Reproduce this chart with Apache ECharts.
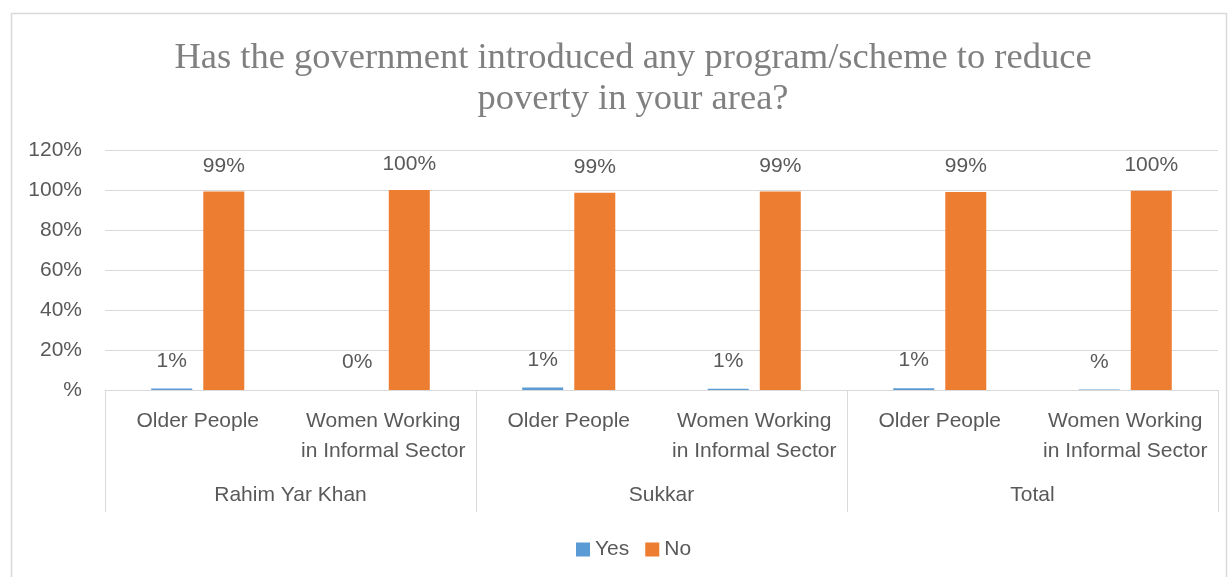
<!DOCTYPE html>
<html>
<head>
<meta charset="utf-8">
<script src="https://cdn.jsdelivr.net/npm/echarts@6/dist/echarts.min.js"></script>
<style>
  html, body { margin: 0; padding: 0; background: #ffffff; }
  #chart { width: 1230px; height: 577px; }
</style>
</head>
<body>
<div id="chart"></div>
<script>
// Survey answers by respondent group and district (percent)
const groups = ['Rahim Yar Khan', 'Sukkar', 'Total'];
const categories = [
  'Older People', 'Women Working\nin Informal Sector',
  'Older People', 'Women Working\nin Informal Sector',
  'Older People', 'Women Working\nin Informal Sector'
];
const yesValues = [0.8, 0, 1.2, 0.6, 0.9, 0.3];
const noValues = [99.2, 100, 98.6, 99.2, 99.0, 99.6];
const yTicks = [0, 20, 40, 60, 80, 100, 120];

const TEXT = '#595959';
const GRID = '#d9d9d9';
const SANS = '"Liberation Sans", Arial, sans-serif';

// Percent label in the "#%" style: values that round to zero lose their digit
function pct(v) {
  if (v === 0) return '0%';
  const r = Math.round(v);
  return (r === 0 ? '' : r) + '%';
}

const chart = echarts.init(document.getElementById('chart'));
chart.setOption({
  backgroundColor: '#ffffff',
  animation: false,
  title: {
    text: 'Has the government introduced any program/scheme to reduce\npoverty in your area?',
    left: 628,
    top: 33,
    textAlign: 'center',
    textStyle: {
      fontFamily: '"Liberation Serif", "DejaVu Serif", serif',
      fontWeight: 'normal',
      fontSize: 36.5,
      lineHeight: 41,
      color: '#808080'
    }
  },
  legend: {
    data: ['Yes', 'No'],
    left: 571,
    top: 534,
    icon: 'rect',
    itemWidth: 14,
    itemHeight: 14,
    itemGap: 16,
    textStyle: { fontFamily: SANS, fontSize: 21, color: TEXT }
  },
  grid: { left: 105, right: 12, top: 150, bottom: 187, containLabel: false },
  xAxis: [
    {
      type: 'category',
      data: categories,
      position: 'bottom',
      axisLine: { show: true, lineStyle: { color: GRID, width: 1 } },
      axisTick: { show: false },
      axisLabel: {
        interval: 0,
        margin: 16,
        fontFamily: SANS,
        fontSize: 21,
        lineHeight: 30,
        color: TEXT,
        align: 'center'
      }
    },
    {
      type: 'category',
      data: groups,
      position: 'bottom',
      gridIndex: 0,
      axisLine: { show: false },
      axisTick: { show: true, length: 122, lineStyle: { color: GRID, width: 1 } },
      axisLabel: {
        interval: 0,
        margin: 95,
        fontFamily: SANS,
        fontSize: 21,
        color: TEXT
      }
    }
  ],
  yAxis: {
    type: 'value',
    min: yTicks[0],
    max: yTicks[yTicks.length - 1],
    interval: 20,
    axisLine: { show: false },
    axisTick: { show: false },
    splitLine: { show: true, lineStyle: { color: GRID, width: 1 } },
    axisLabel: {
      margin: 23,
      fontFamily: SANS,
      fontSize: 21,
      color: TEXT,
      formatter: v => (v === 0 ? '' : v) + '%'
    }
  },
  series: [
    {
      name: 'Yes',
      type: 'bar',
      xAxisIndex: 0,
      data: yesValues,
      barWidth: 41,
      barGap: '27%',
      itemStyle: { color: '#5b9bd5' },
      label: {
        show: true,
        position: 'top',
        distance: 17,
        fontFamily: SANS,
        fontSize: 21,
        color: TEXT,
        formatter: p => pct(p.value)
      }
    },
    {
      name: 'No',
      type: 'bar',
      xAxisIndex: 0,
      data: noValues,
      barWidth: 41,
      barGap: '27%',
      itemStyle: { color: '#ed7d31' },
      label: {
        show: true,
        position: 'top',
        distance: 15,
        fontFamily: SANS,
        fontSize: 21,
        color: TEXT,
        formatter: p => pct(p.value)
      }
    }
  ],
  graphic: [
    {
      type: 'rect',
      shape: { x: 11.5, y: 13.5, width: 1215, height: 600 },
      style: { fill: null, stroke: GRID, lineWidth: 1.5 },
      silent: true,
      z: -1
    }
  ]
});
</script>
</body>
</html>
